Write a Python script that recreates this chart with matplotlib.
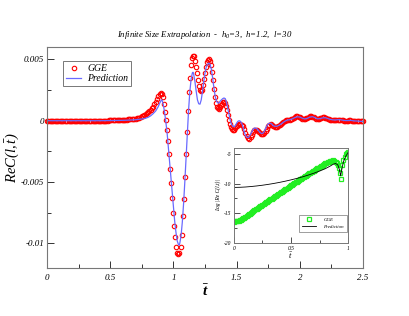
import matplotlib
matplotlib.use('Agg')
import matplotlib.pyplot as plt
from matplotlib.ticker import MultipleLocator, FuncFormatter

plt.rcParams['font.family'] = ['Liberation Serif', 'DejaVu Serif']
plt.rcParams['font.style'] = 'italic'
plt.rcParams['mathtext.fontset'] = 'custom'
plt.rcParams['mathtext.rm'] = 'Liberation Serif:style=italic'
plt.rcParams['mathtext.it'] = 'Liberation Serif:style=italic'
plt.rcParams['mathtext.bf'] = 'Liberation Serif:style=italic:weight=bold'

# main panel: GGE points (t, Re C)
gge_t = [0.00, 0.01, 0.02, 0.03, 0.04, 0.05, 0.06, 0.07, 0.08, 0.09,
         0.10, 0.11, 0.12, 0.13, 0.14, 0.15, 0.16, 0.17, 0.18, 0.19,
         0.20, 0.21, 0.22, 0.23, 0.24, 0.25, 0.26, 0.27, 0.28, 0.29,
         0.30, 0.31, 0.32, 0.33, 0.34, 0.35, 0.36, 0.37, 0.38, 0.39,
         0.40, 0.41, 0.42, 0.43, 0.44, 0.45, 0.46, 0.47, 0.48, 0.49,
         0.50, 0.51, 0.52, 0.53, 0.54, 0.55, 0.56, 0.57, 0.58, 0.59,
         0.60, 0.61, 0.62, 0.63, 0.64, 0.65, 0.66, 0.67, 0.68, 0.69,
         0.70, 0.71, 0.72, 0.73, 0.74, 0.75, 0.76, 0.77, 0.78, 0.79,
         0.80, 0.81, 0.82, 0.83, 0.84, 0.85, 0.86, 0.87, 0.88, 0.89,
         0.900, 0.908, 0.915, 0.923, 0.931, 0.939, 0.947, 0.956, 0.964, 0.972,
         0.981, 0.989, 0.998, 1.006, 1.014, 1.023, 1.031, 1.040, 1.048, 1.056,
         1.064, 1.072, 1.080, 1.088, 1.097, 1.105, 1.113, 1.121, 1.129, 1.137,
         1.145, 1.153, 1.161, 1.169, 1.177, 1.185, 1.194, 1.202, 1.210, 1.218,
         1.226, 1.234, 1.242, 1.250, 1.258, 1.266, 1.274, 1.282, 1.290, 1.298,
         1.306, 1.314, 1.322, 1.330, 1.338, 1.346, 1.354, 1.362, 1.370, 1.378,
         1.386, 1.394, 1.402, 1.410, 1.418, 1.426, 1.434, 1.442, 1.450, 1.458,
         1.466, 1.474, 1.482, 1.490,
         1.50, 1.51, 1.52, 1.53, 1.54, 1.55, 1.56, 1.57, 1.58, 1.59,
         1.60, 1.61, 1.62, 1.63, 1.64, 1.65, 1.66, 1.67, 1.68, 1.69,
         1.70, 1.71, 1.72, 1.73, 1.74, 1.75, 1.76, 1.77, 1.78, 1.79,
         1.80, 1.81, 1.82, 1.83, 1.84, 1.85, 1.86, 1.87, 1.88, 1.89,
         1.90, 1.91, 1.92, 1.93, 1.94, 1.95, 1.96, 1.97, 1.98, 1.99,
         2.00, 2.01, 2.02, 2.03, 2.04, 2.05, 2.06, 2.07, 2.08, 2.09,
         2.10, 2.11, 2.12, 2.13, 2.14, 2.15, 2.16, 2.17, 2.18, 2.19,
         2.20, 2.21, 2.22, 2.23, 2.24, 2.25, 2.26, 2.27, 2.28, 2.29,
         2.30, 2.31, 2.32, 2.33, 2.34, 2.35, 2.36, 2.37, 2.38, 2.39,
         2.40, 2.41, 2.42, 2.43, 2.44, 2.45, 2.46, 2.47, 2.48, 2.49, 2.50]
gge_v = [0, 0, 0, 0, 0, 0, 0, 0, 0, 0,
         0, 0, 0, 0, 0, 0, 0, 0, 0, 0,
         0, 0, 0, 0, 0, 0, 0, 0, 0, 0,
         0, 0, 0, 0, 0, 0, 0, 0, 0, 0,
         0, 0, 0, 0, 0, 0.00001, 0.00001, 0.00001, 0.00001, 0.00002,
         0.00002, 0.00002, 0.00002, 0.00003, 0.00003, 0.00003, 0.00004, 0.00004, 0.00005, 0.00005,
         0.00006, 0.00007, 0.00008, 0.00009, 0.0001, 0.00011, 0.00012, 0.00013, 0.00015, 0.00016,
         0.00018, 0.0002, 0.00023, 0.00026, 0.0003, 0.00035, 0.0004, 0.00046, 0.00052, 0.0006,
         0.00068, 0.00077, 0.00088, 0.001, 0.00115, 0.00133, 0.00155, 0.0018, 0.00203, 0.0022,
         0.00224, 0.00215, 0.0019, 0.0014, 0.00075, 0.00008, -0.00073, -0.00167, -0.0027, -0.0039,
         -0.0051, -0.0063, -0.0075, -0.0086, -0.0095, -0.0103, -0.01075, -0.0109, -0.0108, -0.0103,
         -0.0093, -0.0078, -0.0064, -0.0046, -0.0027, -0.0009, 0.0008, 0.0023, 0.0035, 0.0045,
         0.0051, 0.0053, 0.00525, 0.0049, 0.0044, 0.0039, 0.0033, 0.0028, 0.0025, 0.0024,
         0.0025, 0.0029, 0.0034, 0.0039, 0.0044, 0.00475, 0.00495, 0.005, 0.0049, 0.00455,
         0.004, 0.0033, 0.0026, 0.00195, 0.00145, 0.00115, 0.001, 0.00098, 0.00108, 0.00125,
         0.0014, 0.0015, 0.00152, 0.00145, 0.0012, 0.00085, 0.00045, 0.00005, -0.0003, -0.00055,
         -0.0007, -0.00075, -0.00072, -0.0006,
         -0.00047, -0.00037, -0.0003, -0.00028, -0.00031, -0.00045, -0.0007, -0.00098, -0.00125, -0.00142,
         -0.00145, -0.00135, -0.00115, -0.00093, -0.00078, -0.00072, -0.00074, -0.00082, -0.00095, -0.00106,
         -0.00112, -0.00112, -0.00102, -0.00085, -0.00065, -0.00045, -0.00033, -0.0003, -0.00033, -0.00041,
         -0.00048, -0.00052, -0.00051, -0.00046, -0.00039, -0.00028, -0.00017, -0.00008, -0.00002, 0.00003,
         0.00005, 0.00006, 0.00008, 0.00012, 0.00017, 0.00024, 0.0003, 0.00035, 0.00036, 0.00034,
         0.00029, 0.00022, 0.00016, 0.00013, 0.00014, 0.00019, 0.00026, 0.00032, 0.00035, 0.00036,
         0.00033, 0.00027, 0.0002, 0.00015, 0.00013, 0.00015, 0.00019, 0.00023, 0.00027, 0.00028,
         0.00026, 0.00022, 0.00017, 0.00012, 0.00009, 0.00007, 0.00006, 0.00005, 0.00005, 0.00007,
         0.00008, 0.00009, 0.00008, 0.00005, 0.00003, 0.00001, 0, 0, 0.00001, 0.00003,
         0.00003, 0.00001, -0.00001, -0.00003, -0.00003, -0.00002, -0.00003, -0.00004, -0.00005, -0.00006, -0.00006]

# main panel: prediction line
pred_t = [0.00, 0.20, 0.40, 0.50, 0.60, 0.65, 0.70, 0.75, 0.78, 0.80, 0.82, 0.84,
          0.86, 0.88, 0.89, 0.90, 0.905, 0.91, 0.92, 0.93, 0.94, 0.95, 0.96, 0.97,
          0.98, 0.99, 1.00, 1.01, 1.02, 1.03, 1.04, 1.045, 1.05, 1.06, 1.07, 1.08,
          1.09, 1.10, 1.11, 1.12, 1.13, 1.14, 1.15, 1.155, 1.16, 1.17, 1.18, 1.19,
          1.20, 1.21, 1.22, 1.23, 1.24, 1.25, 1.26, 1.27, 1.28, 1.29, 1.30, 1.31,
          1.32, 1.33, 1.34, 1.35, 1.36, 1.37, 1.38, 1.39, 1.40, 1.41, 1.42, 1.43,
          1.44, 1.45, 1.46, 1.47, 1.48, 1.49, 1.50, 1.51, 1.52, 1.53, 1.54, 1.55,
          1.56, 1.57, 1.58, 1.59, 1.60, 1.61, 1.62, 1.63, 1.64, 1.65, 1.66, 1.67,
          1.68, 1.69, 1.70, 1.71, 1.72, 1.73, 1.74, 1.75, 1.76, 1.77, 1.78, 1.79,
          1.80, 1.82, 1.84, 1.86, 1.88, 1.90, 1.92, 1.94, 1.96, 1.98, 2.00, 2.02,
          2.04, 2.06, 2.08, 2.10, 2.12, 2.14, 2.16, 2.18, 2.20, 2.22, 2.24, 2.26,
          2.28, 2.30, 2.32, 2.34, 2.36, 2.38, 2.40, 2.42, 2.44, 2.46, 2.48, 2.50]
pred_v = [0, 0, 0, 0.00001, 0.00003, 0.00005, 0.00008, 0.00014, 0.0002, 0.00028, 0.0004, 0.00058,
          0.0008, 0.00115, 0.0014, 0.0016, 0.0017, 0.00168, 0.0013, 0.0007, -0.0001, -0.001, -0.0022, -0.0034,
          -0.0047, -0.0059, -0.0071, -0.0082, -0.0091, -0.0098, -0.0101, -0.01015, -0.01, -0.0094, -0.0083, -0.0068,
          -0.005, -0.003, -0.001, 0.0009, 0.0024, 0.0034, 0.0039, 0.00395, 0.0038, 0.0032, 0.0024, 0.0017,
          0.00138, 0.00135, 0.0017, 0.0024, 0.0032, 0.0039, 0.0044, 0.0046, 0.0047, 0.0046, 0.0042, 0.0035,
          0.0027, 0.002, 0.0016, 0.00145, 0.00145, 0.0016, 0.0017, 0.0018, 0.00185, 0.0018, 0.0015, 0.001,
          0.0005, 0.0, -0.0003, -0.00045, -0.0005, -0.0004, -0.0002, -0.00005, 0.0, -0.00005, -0.0002, -0.0005,
          -0.0009, -0.0012, -0.00135, -0.00138, -0.0013, -0.0011, -0.0009, -0.0007, -0.0006, -0.0006, -0.00065, -0.00075,
          -0.0009, -0.001, -0.00105, -0.001, -0.00085, -0.0006, -0.0004, -0.00025, -0.0002, -0.00022, -0.0003, -0.0004,
          -0.00045, -0.00045, -0.00035, -0.0002, -0.00005, 0.00005, 0.00008, 0.00015, 0.00025, 0.00032, 0.0003, 0.0002,
          0.00014, 0.0002, 0.0003, 0.00033, 0.00025, 0.00015, 0.00017, 0.00023, 0.00025, 0.00018, 0.00011, 0.00007,
          0.00006, 0.00008, 0.00008, 0.00004, 0.00001, 0.00001, 0.00003, 0.0, -0.00002, -0.00003, -0.00005, -0.00006]

# inset: log |Re C|
ins_gge_t = [0.00, 0.01, 0.02, 0.03, 0.04, 0.05, 0.06, 0.07, 0.08, 0.09,
             0.10, 0.11, 0.12, 0.13, 0.14, 0.15, 0.16, 0.17, 0.18, 0.19,
             0.20, 0.21, 0.22, 0.23, 0.24, 0.25, 0.26, 0.27, 0.28, 0.29,
             0.30, 0.31, 0.32, 0.33, 0.34, 0.35, 0.36, 0.37, 0.38, 0.39,
             0.40, 0.41, 0.42, 0.43, 0.44, 0.45, 0.46, 0.47, 0.48, 0.49,
             0.50, 0.51, 0.52, 0.53, 0.54, 0.55, 0.56, 0.57, 0.58, 0.59,
             0.60, 0.61, 0.62, 0.63, 0.64, 0.65, 0.66, 0.67, 0.68, 0.69,
             0.70, 0.71, 0.72, 0.73, 0.74, 0.75, 0.76, 0.77, 0.78, 0.79,
             0.80, 0.81, 0.82, 0.83, 0.84, 0.85, 0.86, 0.87, 0.88, 0.89,
             0.90, 0.91, 0.92, 0.93, 0.94, 0.95, 0.96, 0.97, 0.98, 0.99, 1.00]
ins_gge_v = [-16.40, -16.38, -16.35, -16.30, -16.24, -16.16, -16.07, -15.97, -15.85, -15.73,
             -15.60, -15.46, -15.33, -15.19, -15.05, -14.91, -14.78, -14.64, -14.50, -14.36,
             -14.22, -14.09, -13.96, -13.83, -13.70, -13.57, -13.44, -13.31, -13.18, -13.05,
             -12.92, -12.79, -12.66, -12.53, -12.40, -12.27, -12.14, -12.01, -11.88, -11.75,
             -11.62, -11.49, -11.36, -11.23, -11.10, -10.97, -10.84, -10.71, -10.58, -10.45,
             -10.32, -10.19, -10.06, -9.93, -9.80, -9.67, -9.54, -9.41, -9.28, -9.15,
             -9.02, -8.90, -8.78, -8.66, -8.54, -8.42, -8.30, -8.18, -8.06, -7.94,
             -7.82, -7.70, -7.58, -7.46, -7.34, -7.22, -7.10, -6.98, -6.86, -6.74,
             -6.62, -6.52, -6.42, -6.33, -6.25, -6.18, -6.13, -6.11, -6.14, -6.30,
             -6.55, -6.90, -7.40, -8.20, -9.20, -6.80, -6.00, -5.50, -5.10, -4.85, -4.70]
ins_pred_t = [0.00, 0.05, 0.10, 0.15, 0.20, 0.25, 0.30, 0.35, 0.40, 0.45, 0.50, 0.55,
              0.60, 0.65, 0.70, 0.75, 0.80, 0.84, 0.87, 0.89, 0.91, 0.925, 0.935, 0.945,
              0.96, 0.98, 1.00]
ins_pred_v = [-10.65, -10.63, -10.58, -10.50, -10.40, -10.28, -10.14, -9.98, -9.80, -9.60, -9.38, -9.14,
              -8.88, -8.58, -8.26, -7.90, -7.50, -7.10, -6.75, -6.62, -6.85, -7.70, -8.70, -7.60,
              -6.30, -5.40, -4.80]

fig = plt.figure(figsize=(4.09, 3.16), dpi=100)
ax = fig.add_axes([0.115, 0.152, 0.7726, 0.699])

ax.plot(gge_t, gge_v, 'o', ms=3.2, mfc='none', mec='red', mew=0.8, label='GGE', clip_on=False)
ax.plot(pred_t, pred_v, '-', color='#6a6aff', lw=0.9, label='Prediction')

ax.set_xlim(0, 2.5)
ax.set_ylim(-0.012, 0.006)
ax.xaxis.set_major_locator(MultipleLocator(0.5))
ax.xaxis.set_minor_locator(MultipleLocator(0.25))
ax.yaxis.set_major_locator(MultipleLocator(0.005))
ax.yaxis.set_minor_locator(MultipleLocator(0.0025))
ax.xaxis.set_major_formatter(FuncFormatter(lambda v, p: '%g' % v))
ax.yaxis.set_major_formatter(FuncFormatter(lambda v, p: '%g' % round(v, 6)))
ax.tick_params(which='both', direction='in', top=False, right=False,
               labelsize=6.5, color='#333333')
ax.tick_params(which='major', length=5, width=0.7)
ax.tick_params(which='minor', length=3, width=0.7)
ax.tick_params(axis='y', pad=2)
ax.tick_params(axis='x', pad=4)
for s in ax.spines.values():
    s.set_color('#777777')
    s.set_linewidth(0.8)

ax.set_title(r'Infinite Size Extrapolation  -  h$_0$=3,  h=1.2,  l=30', fontsize=6.3, pad=7)
ax.set_xlabel(r'$\bar{\mathbf{t}}$', fontsize=11, labelpad=1)
ax.set_ylabel(r'$ReC(l,\bar{t})$', fontsize=10.5, labelpad=0)

leg = ax.legend(loc='upper left', bbox_to_anchor=(0.05, 0.935), fontsize=7,
                frameon=True, fancybox=False, handlelength=1.6, handletextpad=0.6,
                borderpad=0.3, labelspacing=0.1, borderaxespad=0)
leg.get_frame().set_edgecolor('#555555')
leg.get_frame().set_linewidth(0.7)

# inset
ins = fig.add_axes([0.572, 0.231, 0.279, 0.301])
ins.plot(ins_gge_t, ins_gge_v, 's', ms=2.6, mfc='none', mec='#22ee22', mew=0.9, label='GGE')
ins.plot(ins_pred_t, ins_pred_v, '-', color='black', lw=0.6, label='Prediction')
ins.set_xlim(0, 1)
ins.set_ylim(-20, -4)
ins.xaxis.set_major_locator(MultipleLocator(0.5))
ins.xaxis.set_minor_locator(MultipleLocator(0.25))
ins.yaxis.set_major_locator(MultipleLocator(5))
ins.yaxis.set_minor_locator(MultipleLocator(2.5))
ins.xaxis.set_major_formatter(FuncFormatter(lambda v, p: '%g' % v))
ins.yaxis.set_major_formatter(FuncFormatter(lambda v, p: '%g' % v))
ins.tick_params(which='both', direction='in', top=False, right=False,
                labelsize=4, color='#333333', pad=2)
ins.tick_params(which='major', length=4, width=0.6)
ins.tick_params(which='minor', length=2, width=0.6)
for s in ins.spines.values():
    s.set_color('#777777')
    s.set_linewidth(0.7)
ins.set_xlabel(r'$\bar{t}$', fontsize=6, labelpad=0)
ins.set_ylabel('Log |Re C(l,t)|', fontsize=4, labelpad=2)
ileg = ins.legend(loc='lower right', bbox_to_anchor=(0.99, 0.12), fontsize=3.5,
                  frameon=True, fancybox=False, handlelength=3, handletextpad=1.5,
                  borderpad=0.6, labelspacing=0.5, borderaxespad=0)
ileg.get_frame().set_edgecolor('#555555')
ileg.get_frame().set_linewidth(0.5)

fig.savefig('out.png', dpi=100)
